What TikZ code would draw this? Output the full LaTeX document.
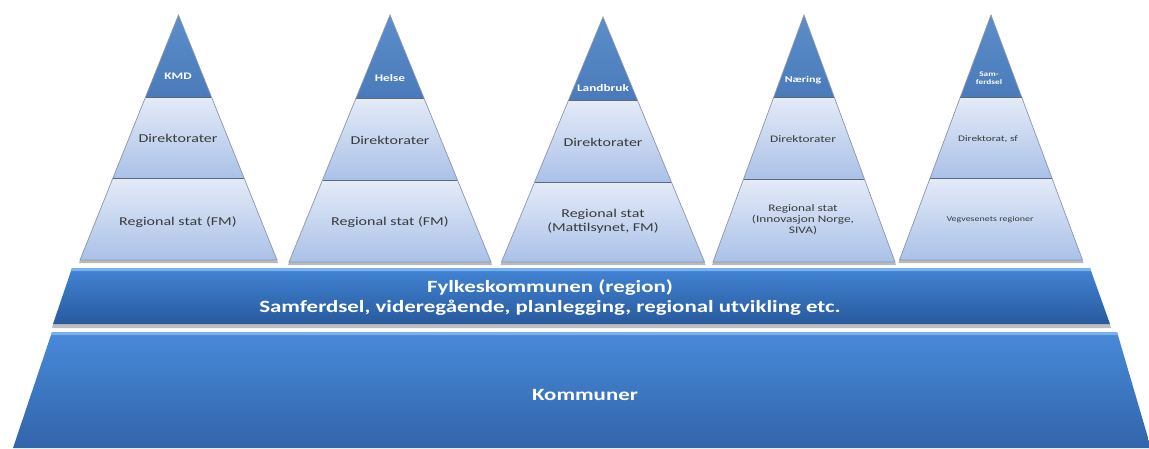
\documentclass[tikz,border=0pt]{standalone}
\usepackage{fontspec}
\setmainfont{Carlito}[FakeStretch=1.33]
\definecolor{topblue}{RGB}{74,122,186}
\definecolor{topblueL}{RGB}{92,142,202}
\definecolor{lightA}{RGB}{228,235,248}
\definecolor{lightB}{RGB}{170,193,232}
\definecolor{sepline}{RGB}{95,105,125}
\definecolor{edge}{RGB}{140,150,170}
\definecolor{fylA}{RGB}{66,132,212}
\definecolor{fylB}{RGB}{40,90,158}
\definecolor{komA}{RGB}{72,138,218}
\definecolor{komB}{RGB}{50,100,170}
\definecolor{hilite}{RGB}{120,178,238}
\definecolor{lbl}{RGB}{58,58,58}
\newcommand\mypyr[6]{%
 \pgfmathsetmacro\psl{#2/(#6-#3)}%
 \pgfmathsetmacro\pha{\psl*(#4-#3)}%
 \pgfmathsetmacro\phb{\psl*(#5-#3)}%
 \fill[gray!55] (#1-#2,#6) -- (#1+#2,#6) -- (#1+#2+1,#6+3) -- (#1-#2-1,#6+3) -- cycle;
 \shade[top color=lightA, bottom color=lightB] (#1-\phb,#5) -- (#1+\phb,#5) -- (#1+#2,#6) -- (#1-#2,#6) -- cycle;
 \shade[top color=lightA, bottom color=lightB] (#1-\pha,#4) -- (#1+\pha,#4) -- (#1+\phb,#5) -- (#1-\phb,#5) -- cycle;
 \shade[top color=topblueL, bottom color=topblue] (#1,#3) -- (#1+\pha,#4) -- (#1-\pha,#4) -- cycle;
 \draw[edge, line width=0.7pt] (#1,#3) -- (#1+#2,#6) -- (#1-#2,#6) -- cycle;
 \draw[sepline, line width=0.9pt] (#1-\pha,#4) -- (#1+\pha,#4) (#1-\phb,#5) -- (#1+\phb,#5);
}
\begin{document}
\begin{tikzpicture}[x=1pt, y=-1pt,
  toplab/.style={text=white, font=\bfseries\fontsize{10}{11}\selectfont, inner sep=0pt, align=center},
  plab/.style={text=lbl, font=\fontsize{12}{14}\selectfont, inner sep=0pt, align=center},
  plabs/.style={text=lbl, font=\fontsize{10}{11}\selectfont, inner sep=0pt, align=center},
  plabxs/.style={text=lbl, font=\fontsize{7.5}{8.5}\selectfont, inner sep=0pt, align=center},
  bandlab/.style={text=white, font=\bfseries\fontsize{17.2}{20}\selectfont, inner sep=0pt, align=center}]
\useasboundingbox (0,0) rectangle (1149,448);
\fill[white] (0,0) rectangle (1149,448);
% pyramids
\mypyr{178.5}{98.5}{15}{97}{178}{260}
\mypyr{390}{101}{15}{98}{180}{262}
\mypyr{603}{101.5}{17}{100}{182}{262}
\mypyr{804}{91}{15}{97}{179}{262}
\mypyr{991}{91.5}{15}{97}{178}{260}
% labels
\node[toplab] (k1) at (178,76) {KMD};
\node[plab] (d1) at (178,138) {Direktorater};
\node[plab] (r1) at (178,222) {Regional stat (FM)};
\node[toplab] (k2) at (390,78) {Helse};
\node[plab] (d2) at (390,140) {Direktorater};
\node[plab] (r2) at (390,222) {Regional stat (FM)};
\node[toplab] (k3) at (603,88) {Landbruk};
\node[plab] (d3) at (603,142) {Direktorater};
\node[plab] (r3) at (603,221) {Regional stat\\(Mattilsynet, FM)};
\node[toplab, font=\bfseries\fontsize{9}{10}\selectfont] (k4) at (803,80) {Næring};
\node[plabs] (d4) at (803,139) {Direktorater};
\node[plabs] (r4) at (803,220) {Regional stat\\(Innovasjon Norge,\\SIVA)};
\node[toplab, font=\bfseries\fontsize{7}{7.5}\selectfont] (k5) at (989,78) {Sam-\\ferdsel};
\node[plabxs, font=\fontsize{8.5}{9.5}\selectfont] (d5) at (988,139) {Direktorat, sf};
\node[plabxs] (r5) at (990,220) {Vegvesenets regioner};
% Fylkeskommunen band
\fill[gray!50] (53,324) -- (1110,324) -- (1111,328) -- (52,328) -- cycle;
\shade[top color=fylA, bottom color=fylB] (72,268) -- (1090,268) -- (1110,324) -- (53,324) -- cycle;
\fill[hilite] (72,268) -- (1090,268) -- (1091,271) -- (71,271) -- cycle;
\node[bandlab] (fylke) at (550,298) {Fylkeskommunen (region)\\Samferdsel, videregående, planlegging, regional utvikling etc.};
% Kommuner band
\shade[top color=komA, bottom color=komB] (52,332) -- (1117,332) -- (1151,448) -- (13,448) -- cycle;
\fill[hilite] (52,332) -- (1117,332) -- (1118,335) -- (51,335) -- cycle;
\node[bandlab] (komm) at (585,395) {Kommuner};
\end{tikzpicture}
\end{document}
